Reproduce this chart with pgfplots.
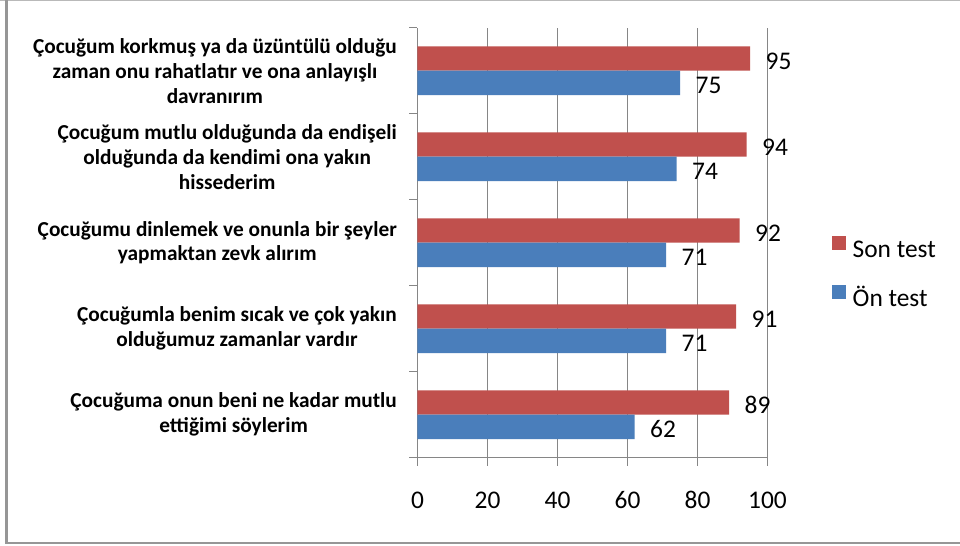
\documentclass[border=0pt]{standalone}
\usepackage{pgfplots}
\pgfplotsset{compat=1.18}
\usepackage{fontspec}
\setmainfont{Carlito}
\definecolor{sonred}{RGB}{192,80,77}
\definecolor{onblue}{RGB}{74,126,187}
\definecolor{gridc}{RGB}{134,134,134}
\definecolor{framec}{RGB}{185,185,185}
\definecolor{framed}{RGB}{150,150,150}
\begin{document}
\begin{tikzpicture}
\useasboundingbox (0,0) rectangle (960bp,-546bp);
\fill[white] (0,0) rectangle (960bp,-546bp);
\draw[framec, line width=1.2bp] (0,-0.6bp) -- (960bp,-0.6bp);
\draw[framed, line width=2.6bp] (6.3bp,0) -- (6.3bp,-543bp) -- (960bp,-543bp);
\begin{axis}[
  at={(417.5bp,-457.7bp)}, anchor=south west,
  scale only axis, width=350bp, height=430bp,
  xmin=0, xmax=100, ymin=-0.5, ymax=4.5,
  xbar, bar width=0.2826,
  axis lines*=left,
  x axis line style={-, draw=gridc, line width=1bp},
  y axis line style={-, draw=gridc, line width=1bp},
  xtick={0,20,...,100},
  minor xtick={0,20,...,100},
  ytick={0,1,2,3,4},
  minor ytick={-0.5,0.5,1.5,2.5,3.5,4.5},
  tick align=outside,
  major tick length=0pt,
  minor tick length=8bp,
  tick style={draw=gridc, line width=1bp},
  xmajorgrids,
  major grid style={draw=gridc, line width=1bp},
  /pgf/number format/assume math mode=true,
  xticklabel style={anchor=base, inner sep=0pt, yshift=-50.6bp, font=\fontsize{25.5}{30}\selectfont},
  yticklabel style={anchor=east, inner sep=0pt, xshift=-20.5bp, align=center, font=\bfseries\fontsize{21.4}{25}\selectfont},
  yticklabels={
    {Çocuğuma onun beni ne kadar mutlu\\ettiğimi söylerim},
    {Çocuğumla benim sıcak ve çok yakın\\olduğumuz zamanlar vardır},
    {Çocuğumu dinlemek ve onunla bir şeyler\\yapmaktan zevk alırım},
    {Çocuğum mutlu olduğunda da endişeli\\olduğunda da kendimi ona yakın\\hissederim},
    {Çocuğum korkmuş ya da üzüntülü olduğu\\zaman onu rahatlatır ve ona anlayışlı\\davranırım}
  },
  nodes near coords,
  every node near coord/.append style={anchor=west, inner sep=0pt, xshift=15.5bp, yshift=-2.4bp, font=\fontsize{25.5}{30}\selectfont, text=black},
  legend style={at={(1.1834,0.4267)}, anchor=west, draw=none, fill=none, inner sep=0pt, outer sep=0pt,
    font=\fontsize{25.5}{30}\selectfont, row sep=22bp,
    nodes={inner sep=0pt, text height=18bp, text depth=6bp},
    /tikz/every odd column/.append style={column sep=7bp}},
  legend cell align=left,
  legend image code/.code={\fill[#1] (0bp,1bp) rectangle (14bp,15bp);},
]
\addplot[fill=sonred, draw=none, bar shift=0.1413] coordinates {(89,0) (91,1) (92,2) (94,3) (95,4)};
\addlegendentry{Son test}
\addplot[fill=onblue, draw=none, bar shift=-0.1413] coordinates {(62,0) (71,1) (71,2) (74,3) (75,4)};
\addlegendentry{Ön test}
\end{axis}
\end{tikzpicture}
\end{document}
